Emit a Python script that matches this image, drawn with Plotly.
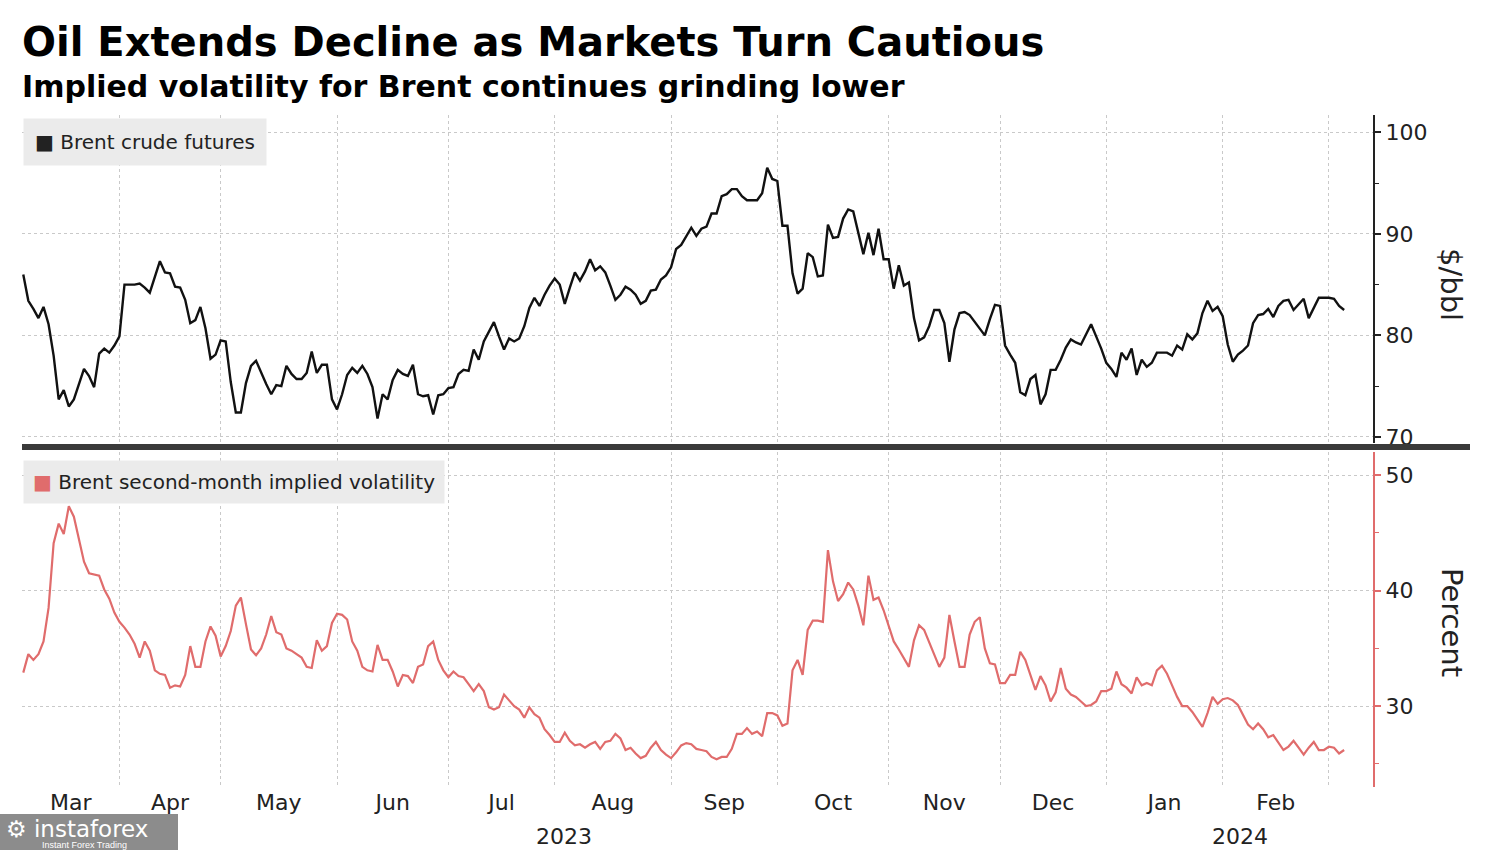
import numpy as np
import pandas as pd
import plotly.graph_objects as go

# ---------------- data (one value per weekday, starting 2023-03-06) ----------------
brent = [
    86.0, 83.4, 82.6, 81.7, 82.8, 81.1, 78.0, 73.7, 74.6, 73.0,
    73.7, 75.2, 76.7, 76.0, 74.9, 78.2, 78.7, 78.3, 79.0, 79.9,
    85.0, 85.0, 85.0, 85.1, 84.7, 84.2, 85.8, 87.3, 86.2, 86.1,
    84.8, 84.7, 83.5, 81.2, 81.5, 82.8, 80.7, 77.7, 78.1, 79.5,
    79.4, 75.4, 72.4, 72.4, 75.3, 77.0, 77.5, 76.3, 75.2, 74.2,
    75.1, 75.0, 77.0, 76.2, 75.7, 75.7, 76.3, 78.4, 76.3, 77.1,
    77.1, 73.7, 72.7, 74.2, 76.1, 76.8, 76.3, 77.0, 76.2, 74.9,
    71.8, 74.2, 73.7, 75.6, 76.6, 76.2, 76.0, 77.1, 74.2, 74.0,
    74.1, 72.2, 74.1, 74.2, 74.8, 74.9, 76.2, 76.6, 76.5, 78.6,
    77.6, 79.4, 80.3, 81.3, 79.9, 78.6, 79.7, 79.4, 79.7, 80.9,
    82.7, 83.7, 82.9, 84.0, 84.9, 85.6, 85.0, 83.1, 84.7, 86.2,
    85.4, 86.3, 87.5, 86.4, 86.8, 86.2, 84.9, 83.5, 84.0, 84.8,
    84.5, 84.0, 83.1, 83.4, 84.4, 84.5, 85.5, 85.9, 86.7, 88.5,
    88.9, 89.8, 90.6, 89.8, 90.5, 90.7, 92.0, 92.0, 93.7, 93.9,
    94.4, 94.4, 93.7, 93.3, 93.3, 93.3, 94.0, 96.5, 95.4, 95.2,
    90.8, 90.8, 86.1, 84.1, 84.6, 88.1, 87.7, 85.8, 85.9, 90.9,
    89.6, 89.7, 91.5, 92.4, 92.2, 90.2, 88.0, 90.1, 87.9, 90.5,
    87.5, 87.5, 84.6, 86.9, 84.9, 85.2, 81.7, 79.5, 79.8, 80.9,
    82.5, 82.5, 81.2, 77.4, 80.6, 82.2, 82.3, 82.0, 81.3, 80.7,
    80.0, 81.6, 83.0, 82.9, 79.0, 78.1, 77.3, 74.4, 74.1, 75.7,
    76.1, 73.2, 74.2, 76.6, 76.6, 77.6, 78.8, 79.6, 79.3, 79.1,
    80.1, 81.1, 79.9, 78.7, 77.3, 76.7, 75.9, 78.3, 77.6, 78.7,
    76.1, 77.6, 76.9, 77.3, 78.3, 78.3, 78.3, 78.0, 79.0, 78.6,
    80.1, 79.6, 80.2, 82.2, 83.4, 82.4, 82.8, 81.9, 79.1, 77.4,
    78.1, 78.5, 79.0, 81.2, 82.0, 82.1, 82.6, 81.8, 82.9, 83.4,
    83.5, 82.5, 83.0, 83.6, 81.7, 82.7, 83.7, 83.7, 83.7, 83.6,
    82.9, 82.5,
]

implied_vol = [
    32.9, 34.5, 34.0, 34.5, 35.6, 38.5, 44.1, 45.8, 44.9, 47.3,
    46.4, 44.4, 42.5, 41.5, 41.4, 41.3, 40.1, 39.3, 38.1, 37.3,
    36.8, 36.2, 35.4, 34.2, 35.6, 34.8, 33.1, 32.8, 32.7, 31.6,
    31.8, 31.7, 32.7, 35.2, 33.4, 33.4, 35.6, 36.9, 36.1, 34.3,
    35.2, 36.5, 38.7, 39.4, 37.1, 34.9, 34.4, 35.0, 36.2, 37.8,
    36.4, 36.2, 35.0, 34.8, 34.5, 34.2, 33.4, 33.3, 35.7, 34.8,
    35.2, 37.2, 38.0, 37.9, 37.5, 35.6, 34.8, 33.4, 33.1, 33.0,
    35.3, 34.0, 34.0, 33.0, 31.7, 32.7, 32.6, 32.0, 33.4, 33.6,
    35.2, 35.6, 34.0, 33.1, 32.5, 33.0, 32.6, 32.5, 31.9, 31.3,
    31.9, 31.3, 29.9, 29.7, 29.9, 31.0, 30.5, 30.0, 29.7, 29.0,
    29.9, 29.3, 29.0, 28.0, 27.5, 26.9, 26.9, 27.7, 27.0, 26.6,
    26.7, 26.4, 26.7, 26.9, 26.3, 26.9, 27.0, 27.6, 27.2, 26.2,
    26.4, 25.9, 25.5, 25.7, 26.4, 26.9, 26.2, 25.8, 25.5, 26.0,
    26.6, 26.8, 26.7, 26.3, 26.2, 26.1, 25.6, 25.4, 25.6, 25.6,
    26.3, 27.6, 27.6, 28.1, 27.6, 27.8, 27.4, 29.4, 29.4, 29.2,
    28.3, 28.5, 33.1, 34.0, 32.7, 36.6, 37.4, 37.4, 37.3, 43.5,
    40.8, 39.1, 39.7, 40.7, 40.1, 38.7, 37.0, 41.3, 39.2, 39.4,
    38.3, 36.9, 35.6, 34.9, 34.2, 33.4, 35.7, 37.0, 36.6, 35.5,
    34.5, 33.4, 34.2, 37.9, 35.6, 33.4, 33.4, 36.2, 37.3, 37.7,
    35.0, 33.7, 33.6, 32.0, 32.0, 32.7, 32.7, 34.7, 34.0, 32.6,
    31.4, 32.6, 31.8, 30.4, 31.2, 33.3, 31.5, 31.0, 30.8, 30.4,
    30.0, 30.1, 30.4, 31.3, 31.3, 31.5, 33.0, 31.9, 31.6, 31.1,
    32.5, 31.8, 32.0, 31.8, 33.1, 33.5, 32.8, 31.8, 30.8, 30.0,
    30.0, 29.5, 28.9, 28.2, 29.4, 30.8, 30.2, 30.6, 30.7, 30.5,
    30.1, 29.2, 28.4, 28.0, 28.5, 28.0, 27.3, 27.5, 26.8, 26.2,
    26.5, 27.0, 26.4, 25.8, 26.4, 26.9, 26.2, 26.2, 26.5, 26.4,
    25.9, 26.2,
]

month_labels = ["Mar", "Apr", "May", "Jun", "Jul", "Aug", "Sep",
                "Oct", "Nov", "Dec", "Jan", "Feb"]
year_labels = ["2023", "2024"]
brent_ticks = [70, 80, 90, 100]
brent_minor = [75, 85, 95]
vol_ticks = [30, 40, 50]
vol_minor = [25, 35, 45]

dates = pd.bdate_range("2023-03-06", periods=len(brent))

# ---------------- weekday-based axis helpers ----------------
cal = pd.bdate_range("2023-02-01", "2024-04-30")
base = cal.get_loc(pd.Timestamp("2023-03-06"))


def kpos(k):
    i = int(np.floor(k))
    f = k - i
    return (cal[base + i] + pd.Timedelta(days=f)).strftime("%Y-%m-%d %H:%M:%S")


def kidx(d):
    return cal.get_loc(pd.Timestamp(d)) - base


k_start, k_end = -0.25, 266.7
month_ends = pd.date_range("2023-03-01", "2024-02-29", freq=pd.offsets.BMonthEnd())
grid_x = [d.strftime("%Y-%m-%d") for d in month_ends]
bounds = [k_start] + [kidx(d) for d in month_ends]
label_x = [kpos((bounds[i] + bounds[i + 1]) / 2) for i in range(len(month_labels))]
k_dec = kidx(pd.Timestamp("2023-12-29"))
year_x = [kpos((k_start + k_dec) / 2), kpos((k_dec + k_end) / 2)]

RED = "#e06c6c"
GRID = "#c9c9c9"
FONT = "DejaVu Sans"

# pixel layout helpers
L, R, T, B = 22, 127, 115, 63
H = 850 - T - B


def py(px):
    return (850 - B - px) / H


def px_x(px):
    return (px - L) / (1500 - L - R)


fig = go.Figure()
fig.add_trace(go.Scatter(x=dates, y=brent, xaxis="x", yaxis="y", mode="lines",
                         line=dict(color="#111111", width=2.4), showlegend=False))
fig.add_trace(go.Scatter(x=dates, y=implied_vol, xaxis="x2", yaxis="y2", mode="lines",
                         line=dict(color=RED, width=2.2), showlegend=False))

rb = [dict(bounds=["sat", "mon"])]
minor_grid = dict(tickmode="array", tickvals=grid_x, showgrid=True, gridcolor=GRID,
                  griddash="dot", gridwidth=1, ticks="")

fig.update_layout(
    width=1500, height=850,
    margin=dict(l=L, r=R, t=T, b=B),
    paper_bgcolor="white", plot_bgcolor="white",
    font=dict(family=FONT, color="#222222"),
    showlegend=False,
    xaxis=dict(domain=[0, 1], anchor="y", matches="x2", rangebreaks=rb,
               range=[kpos(k_start), kpos(k_end)], showticklabels=False,
               showgrid=False, zeroline=False, showline=False, ticks="",
               minor=minor_grid, automargin=False),
    xaxis2=dict(domain=[0, 1], anchor="y2", rangebreaks=rb,
                range=[kpos(k_start), kpos(k_end)],
                tickmode="array", tickvals=label_x, ticktext=month_labels,
                tickfont=dict(size=22, color="#222222", family=FONT),
                showgrid=False, zeroline=False, showline=False, ticks="",
                minor=minor_grid, automargin=False),
    yaxis=dict(domain=[py(443), 1], anchor="x", side="right", range=[69.4, 101.7],
               tickmode="array", tickvals=brent_ticks,
               tickfont=dict(size=22, color="#222222", family=FONT),
               showgrid=True, gridcolor=GRID, griddash="dot", gridwidth=1,
               zeroline=False, showline=True, linecolor="#222222", linewidth=2,
               ticks="outside", ticklen=6, tickwidth=2, tickcolor="#222222",
               minor=dict(tickmode="array", tickvals=brent_minor, ticks="outside",
                          ticklen=4, tickwidth=1, tickcolor="#222222", showgrid=False),
               automargin=False),
    yaxis2=dict(domain=[0, py(452)], anchor="x2", side="right", range=[23.0, 52.0],
                tickmode="array", tickvals=vol_ticks,
                tickfont=dict(size=22, color="#222222", family=FONT),
                showgrid=True, gridcolor=GRID, griddash="dot", gridwidth=1,
                zeroline=False, showline=True, linecolor=RED, linewidth=2,
                ticks="outside", ticklen=6, tickwidth=2, tickcolor=RED,
                minor=dict(tickmode="array", tickvals=vol_minor, ticks="outside",
                           ticklen=4, tickwidth=1, tickcolor=RED, showgrid=False),
                automargin=False),
)

# separator bar between panels
fig.add_shape(type="line", xref="paper", yref="paper", x0=px_x(22), x1=px_x(1470),
              y0=py(447), y1=py(447), line=dict(color="#3a3a3a", width=6))

ann = []
# titles
ann.append(dict(text="<b>Oil Extends Decline as Markets Turn Cautious</b>", xref="paper", yref="paper",
                x=px_x(20), y=py(42), xanchor="left", yanchor="middle", showarrow=False,
                font=dict(size=40, family=FONT, color="#000000")))
ann.append(dict(text="<b>Implied volatility for Brent continues grinding lower</b>", xref="paper",
                yref="paper", x=px_x(20), y=py(87), xanchor="left", yanchor="middle",
                showarrow=False, font=dict(size=30, family=FONT, color="#000000")))
# legend boxes
ann.append(dict(text="■ Brent crude futures", xref="paper", yref="paper",
                x=px_x(23), y=py(118), xanchor="left", yanchor="top", showarrow=False,
                bgcolor="#ebebeb", borderpad=11, font=dict(size=20, family=FONT, color="#222222")))
ann.append(dict(text="<span style='color:%s'>■</span> Brent second-month implied volatility" % RED,
                xref="paper", yref="paper", x=px_x(23), y=py(460), xanchor="left", yanchor="top",
                showarrow=False, bgcolor="#ebebeb", borderpad=9,
                font=dict(size=20, family=FONT, color="#222222")))
# axis titles (rotated clockwise)
ann.append(dict(text="$/bbl", xref="paper", yref="paper", x=px_x(1451), y=py(284),
                xanchor="center", yanchor="middle", textangle=90, showarrow=False,
                font=dict(size=29, family=FONT, color="#222222")))
ann.append(dict(text="Percent", xref="paper", yref="paper", x=px_x(1452), y=py(622),
                xanchor="center", yanchor="middle", textangle=90, showarrow=False,
                font=dict(size=29, family=FONT, color="#222222")))
# year labels
for yx, yl in zip(year_x, year_labels):
    ann.append(dict(text=yl, xref="x2", yref="paper", x=yx, y=py(836), xanchor="center",
                    yanchor="middle", showarrow=False, font=dict(size=22, family=FONT, color="#222222")))

# watermark (kept just below the month labels)
fig.add_shape(type="rect", xref="paper", yref="paper", x0=px_x(0), x1=px_x(178),
              y0=py(850), y1=py(814), fillcolor="rgba(120,120,120,0.85)", line=dict(width=0),
              layer="above")
ann.append(dict(text="⚙ instaforex", xref="paper", yref="paper", x=px_x(4), y=py(829),
                xanchor="left", yanchor="middle", showarrow=False,
                font=dict(size=23, family=FONT, color="white")))
ann.append(dict(text="Instant Forex Trading", xref="paper", yref="paper", x=px_x(40), y=py(845),
                xanchor="left", yanchor="middle", showarrow=False,
                font=dict(size=9, family="Liberation Sans", color="white")))

fig.update_layout(annotations=ann)
fig.write_html("out.html", config={"displayModeBar": False},
               post_script="document.body.style.margin='0';document.body.style.overflow='hidden';")
